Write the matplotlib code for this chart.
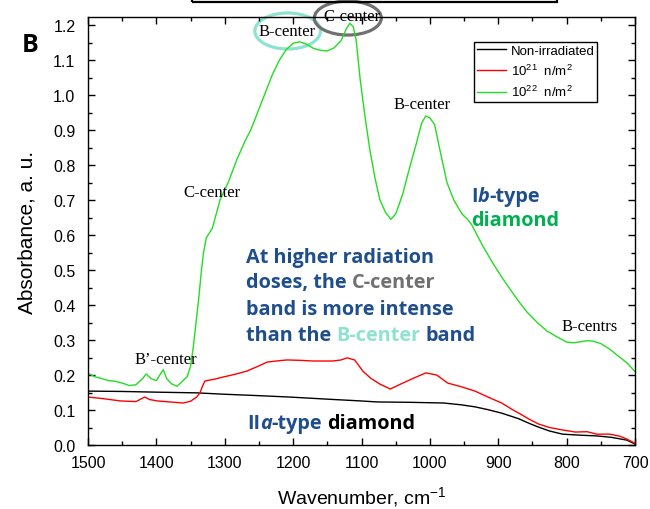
import matplotlib
matplotlib.use("Agg")
import matplotlib.pyplot as plt
from matplotlib.patches import Ellipse, Rectangle
from matplotlib.offsetbox import TextArea, HPacker, AnnotationBbox
from matplotlib.ticker import MultipleLocator, FormatStrFormatter

plt.rcParams['font.family'] = ['Liberation Sans', 'DejaVu Sans']
plt.rcParams['mathtext.default'] = 'regular'

# IR absorbance spectra, wavenumber in cm^-1
wn_green = [1500, 1490, 1480, 1470, 1460, 1450, 1440, 1430, 1420, 1415, 1408, 1400,
            1395, 1390, 1385, 1378, 1370, 1362, 1355, 1350, 1346, 1342, 1338, 1334,
            1331, 1327, 1318, 1307, 1295, 1282, 1270, 1262, 1250, 1240, 1230, 1220,
            1210, 1200, 1190, 1180, 1170, 1160, 1150, 1140, 1130, 1122, 1117, 1112,
            1108, 1102, 1095, 1088, 1080, 1073, 1065, 1057, 1050, 1040, 1030, 1020,
            1012, 1006, 1000, 993, 985, 975, 965, 953, 945, 939, 923, 908, 895, 883,
            870, 858, 843, 829, 815, 800, 790, 780, 770, 762, 750, 737, 725, 712, 700]
abs_green = [0.205, 0.195, 0.19, 0.184, 0.182, 0.177, 0.17, 0.172, 0.19, 0.203, 0.19, 0.184,
             0.2, 0.215, 0.19, 0.175, 0.168, 0.182, 0.195, 0.225, 0.28, 0.35, 0.42, 0.5,
             0.55, 0.592, 0.62, 0.70, 0.75, 0.817, 0.87, 0.90, 0.96, 1.01, 1.06, 1.10,
             1.13, 1.148, 1.152, 1.145, 1.133, 1.128, 1.126, 1.135, 1.155, 1.19, 1.205, 1.195,
             1.16, 1.046, 0.94, 0.846, 0.76, 0.70, 0.665, 0.645, 0.66, 0.715, 0.79, 0.86,
             0.92, 0.94, 0.935, 0.915, 0.84, 0.75, 0.70, 0.66, 0.645, 0.63, 0.57, 0.52, 0.48, 0.446,
             0.41, 0.38, 0.35, 0.326, 0.31, 0.294, 0.292, 0.295, 0.298, 0.297, 0.29, 0.274, 0.255, 0.235, 0.21]

wn_red = [1500, 1480, 1453, 1430, 1417, 1410, 1399, 1380, 1361, 1350, 1341, 1336, 1333,
          1329, 1315, 1303, 1285, 1268, 1250, 1238, 1220, 1209, 1190, 1171, 1142, 1130,
          1121, 1110, 1098, 1086, 1073, 1058, 1045, 1025, 1006, 990, 974, 955, 934, 915,
          895, 880, 870, 855, 841, 825, 806, 787, 770, 756, 737, 722, 712, 700]
abs_red = [0.137, 0.133, 0.126, 0.124, 0.137, 0.13, 0.126, 0.123, 0.12, 0.125, 0.137, 0.15, 0.166,
           0.183, 0.188, 0.194, 0.202, 0.211, 0.226, 0.237, 0.241, 0.243, 0.242, 0.24, 0.24, 0.243,
           0.249, 0.243, 0.211, 0.19, 0.174, 0.16, 0.172, 0.19, 0.206, 0.2, 0.177, 0.167, 0.154, 0.137,
           0.12, 0.102, 0.091, 0.074, 0.06, 0.05, 0.043, 0.037, 0.038, 0.031, 0.031, 0.025, 0.017, 0.005]

wn_black = [1500, 1450, 1400, 1341, 1300, 1250, 1205, 1150, 1102, 1077, 1030, 980, 955,
            934, 915, 895, 870, 855, 841, 825, 806, 780, 756, 735, 712, 700]
abs_black = [0.154, 0.153, 0.151, 0.149, 0.145, 0.141, 0.137, 0.131, 0.126, 0.123, 0.122, 0.12, 0.115,
             0.109, 0.101, 0.091, 0.075, 0.062, 0.051, 0.04, 0.031, 0.028, 0.026, 0.022, 0.014, 0.003]

labels = ['Non-irradiated', r'10$^{21}$  n/m$^{2}$', r'10$^{22}$  n/m$^{2}$']

BLUE = '#1f4e8c'
GREEN_TXT = '#00b050'
GREY = '#707070'
CYAN = '#8ee3cf'

fig = plt.figure(figsize=(6.5, 5.1), dpi=100)
ax = fig.add_axes([88 / 650, 1 - 446 / 510, (635 - 88) / 650, (446 - 18) / 510])

ax.plot(wn_black, abs_black, color='black', lw=1.0, label=labels[0])
ax.plot(wn_red, abs_red, color='#ff0000', lw=1.0, label=labels[1])
ax.plot(wn_green, abs_green, color='#22dd22', lw=1.0, label=labels[2])

ax.set_xlim(1500, 700)
ax.set_ylim(0, 1.223)
ax.xaxis.set_major_locator(MultipleLocator(100))
ax.xaxis.set_minor_locator(MultipleLocator(50))
ax.yaxis.set_major_locator(MultipleLocator(0.1))
ax.yaxis.set_minor_locator(MultipleLocator(0.05))
ax.yaxis.set_major_formatter(FormatStrFormatter('%.1f'))
ax.tick_params(which='both', direction='in', top=True, right=True, labelsize=11.5, width=1)
ax.tick_params(which='major', length=5)
ax.tick_params(which='minor', length=3)
ax.tick_params(axis='y', which='major', pad=9)
ax.tick_params(axis='x', which='major', pad=7)
for s in ax.spines.values():
    s.set_linewidth(1)

ax.set_xlabel('Wavenumber, cm$^{-1}$', fontsize=14, labelpad=10)
ax.set_ylabel('Absorbance, a. u.', fontsize=15, labelpad=12)

leg = ax.legend(loc='upper left', bbox_to_anchor=(474 / 650, 1 - 43 / 510),
                bbox_transform=fig.transFigure, borderaxespad=0, fontsize=9.5,
                fancybox=False, framealpha=1, edgecolor='black', handlelength=2.2,
                handletextpad=0.4, labelspacing=0.45, borderpad=0.2)
leg.get_frame().set_linewidth(1)

# band labels
serif = dict(family=['Liberation Serif', 'DejaVu Serif'], fontsize=12, ha='center', va='center')
ax.text(1209, 1.183, 'B-center', **serif)
ax.text(1114, 1.226, 'C-center', **serif, clip_on=False)
ax.text(1012, 0.974, 'B-center', **serif)
ax.text(1319, 0.723, 'C-center', **serif)
ax.text(1386, 0.246, 'B\u2019-center', **serif)
ax.text(766, 0.34, 'B-centrs', **serif)

ax.add_patch(Ellipse((1208, 1.183), 96, 0.103, fill=False, edgecolor=CYAN, lw=2.3, clip_on=False))
ax.add_patch(Ellipse((1120, 1.22), 98, 0.097, fill=False, edgecolor=GREY, lw=2.3, clip_on=False))


def rich_line(parts, x, y, sep=3.6, fs=14.3):
    boxes = []
    for group in parts:
        inner = [TextArea(s, textprops=dict(color=c, fontsize=fs, fontweight='bold',
                                            fontstyle=st, family=['Open Sans', 'DejaVu Sans']))
                 for s, c, st in group]
        boxes.append(HPacker(children=inner, align='baseline', pad=0, sep=0))
    pack = HPacker(children=boxes, align='baseline', pad=0, sep=sep)
    ab = AnnotationBbox(pack, (x, 510 - y), xycoords='figure pixels',
                        box_alignment=(0, 0.5), frameon=False, pad=0)
    fig.add_artist(ab)


rich_line([[('At higher radiation', BLUE, 'normal')]], 246, 258)
rich_line([[('doses, the', BLUE, 'normal')], [('C-center', GREY, 'normal')]], 246, 283)
rich_line([[('band is more intense', BLUE, 'normal')]], 246, 310)
rich_line([[('than the', BLUE, 'normal')], [('B-center', CYAN, 'normal')],
           [('band', BLUE, 'normal')]], 246, 336)
rich_line([[('I', BLUE, 'normal'), ('b', BLUE, 'italic'), ('-type', BLUE, 'normal')]], 471, 197)
rich_line([[('diamond', GREEN_TXT, 'normal')]], 471, 221)
rich_line([[('II', BLUE, 'normal'), ('a', BLUE, 'italic'), ('-type', BLUE, 'normal')],
           [('diamond', 'black', 'normal')]], 247, 424)

fig.text(30 / 650, 1 - 45 / 510, 'B', fontsize=18, fontweight='bold', ha='center', va='center',
         family=['Open Sans', 'DejaVu Sans'])

# frame of the panel above
fig.add_artist(Rectangle((192 / 650, 1 - 3 / 510), (557 - 192) / 650, 0.1,
                         transform=fig.transFigure, fill=False, edgecolor='black', lw=1.6))

fig.savefig('out.png', dpi=100)
